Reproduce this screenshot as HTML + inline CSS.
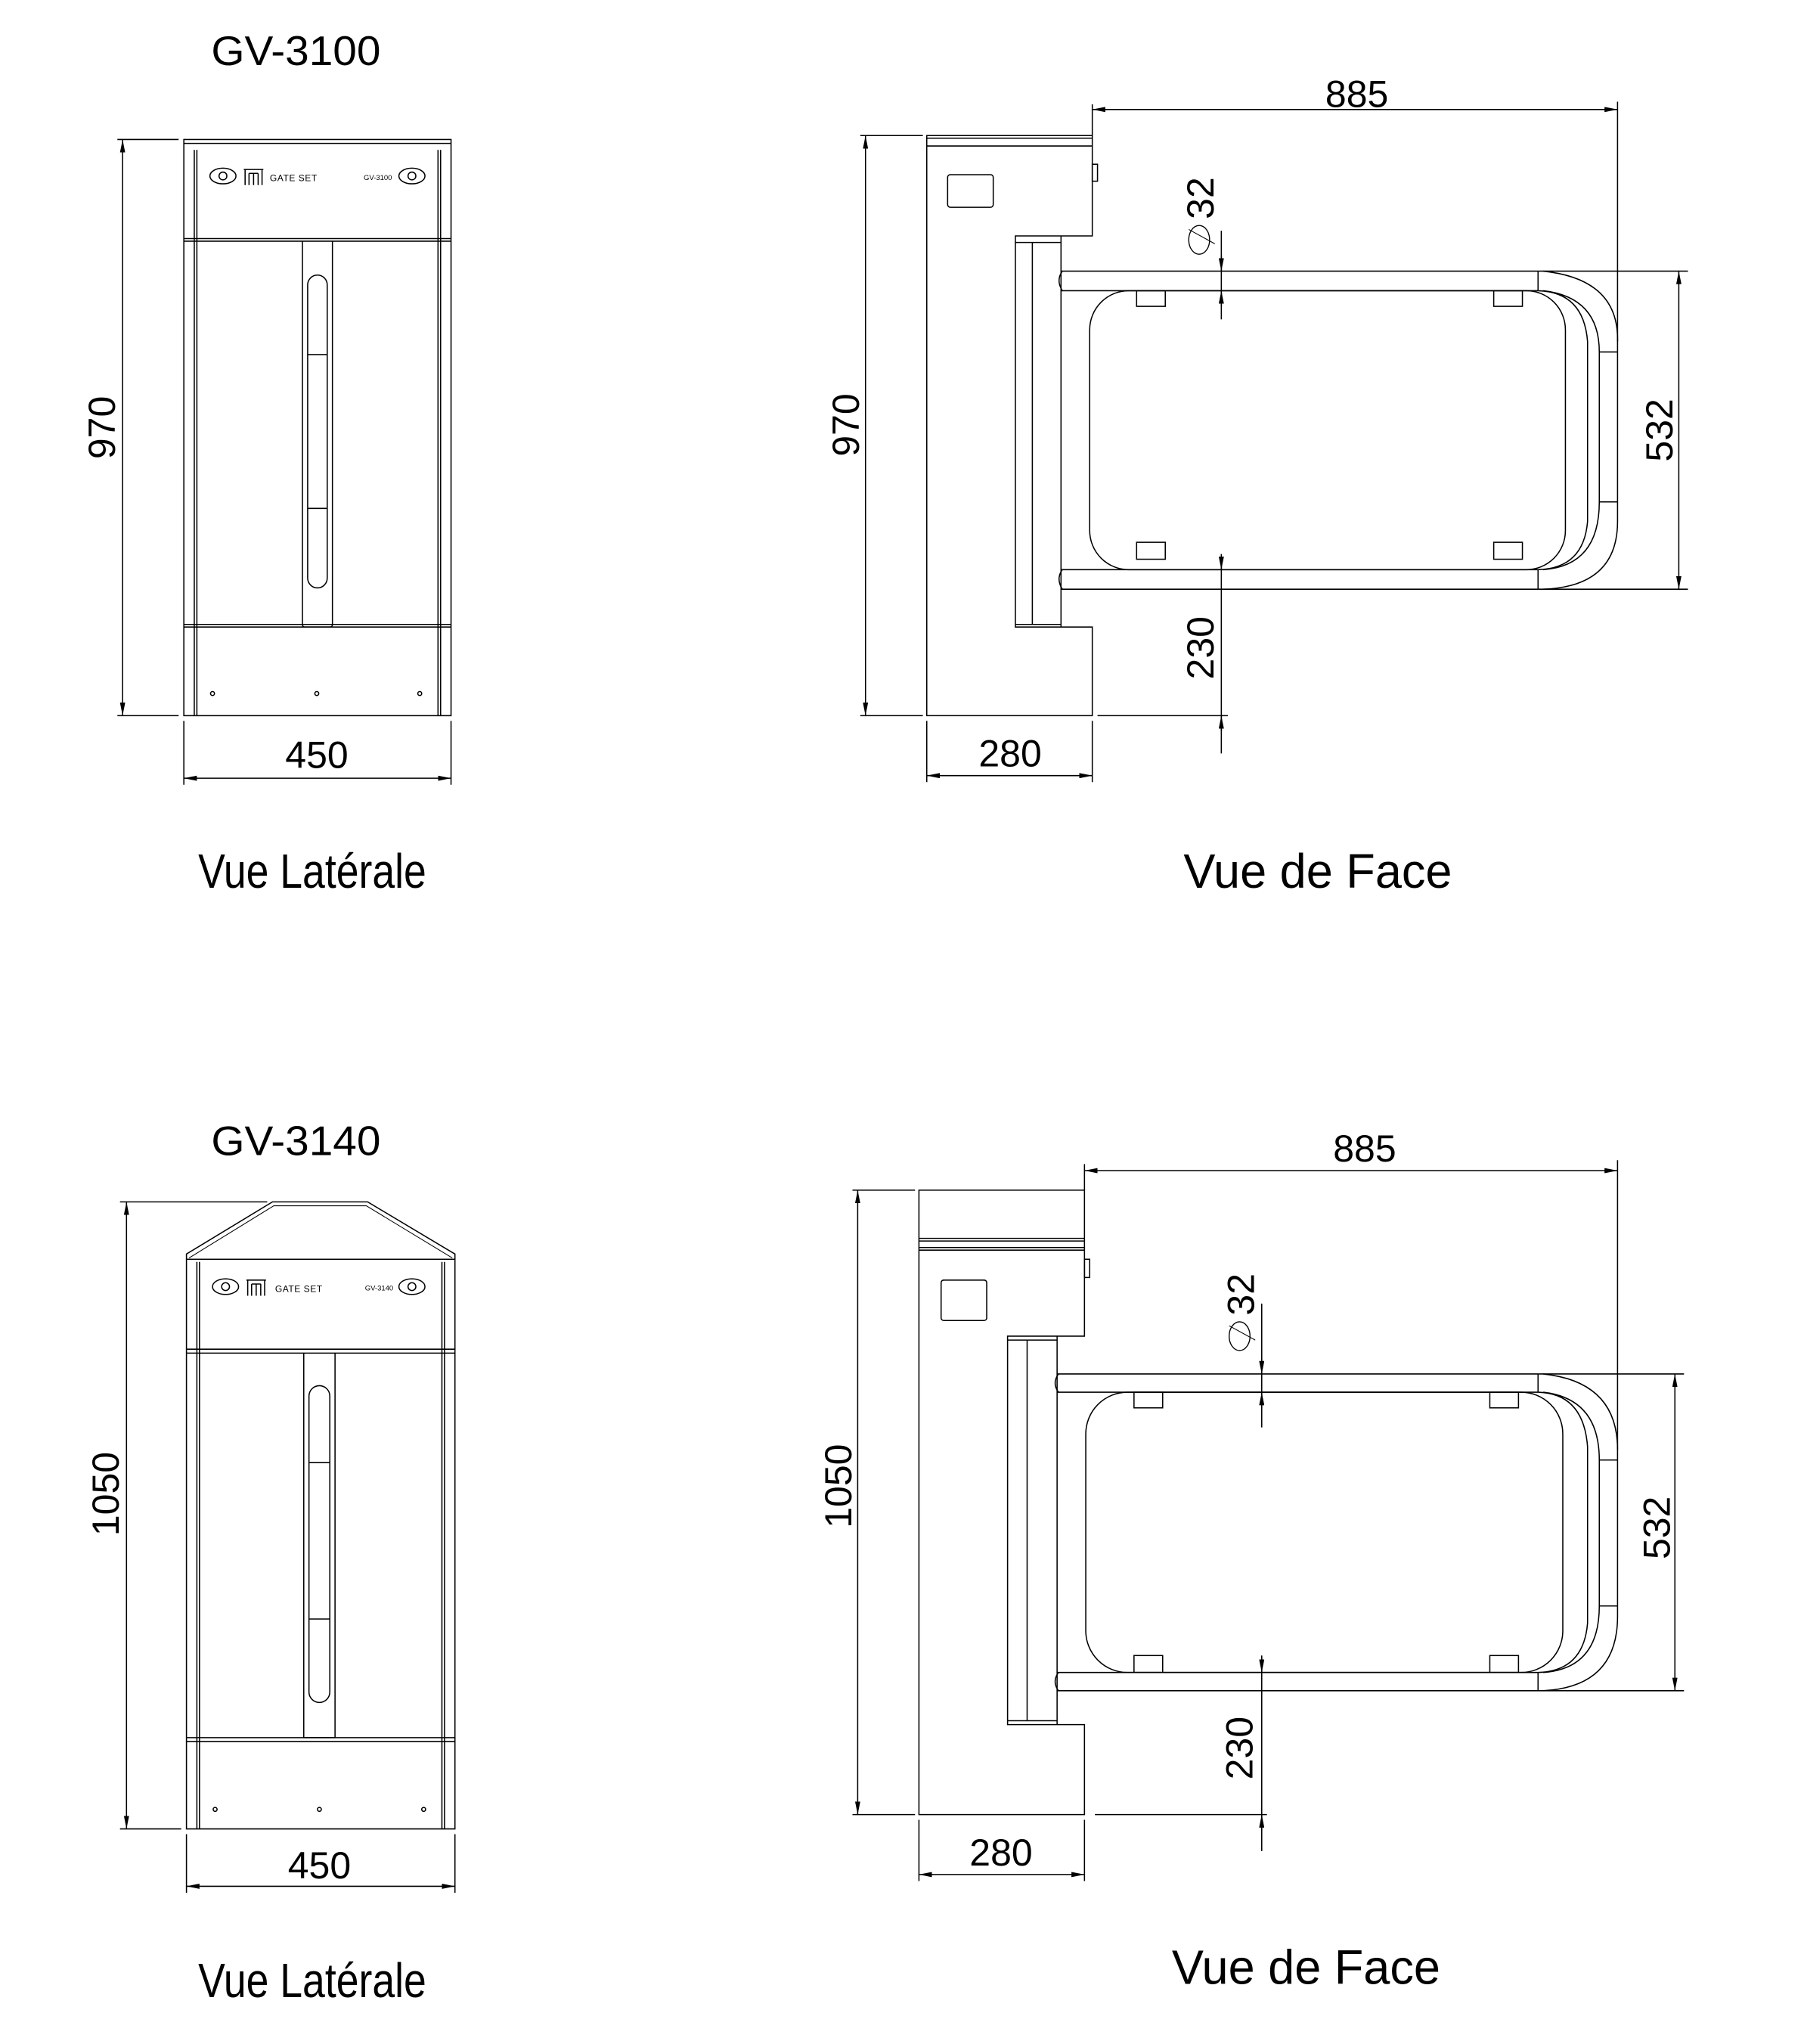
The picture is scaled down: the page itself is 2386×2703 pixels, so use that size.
<!DOCTYPE html>
<html><head><meta charset="utf-8"><style>
html,body{margin:0;padding:0;background:#fff;}
svg{display:block;}
text{font-family:"Liberation Sans",sans-serif;fill:#000;}
.t{font-family:"Liberation Sans Narrow","Liberation Sans",sans-serif;}
</style></head><body>
<svg width="2386" height="2703" viewBox="0 0 1384 1568" xmlns="http://www.w3.org/2000/svg">
<defs>
<marker id="a" viewBox="0 0 10 4" refX="10" refY="2" markerWidth="10" markerHeight="4" markerUnits="userSpaceOnUse" orient="auto-start-reverse"><path d="M0,0 L10,2 L0,4 Z" fill="#000"/></marker>
</defs>
<g fill="none" stroke="#000" stroke-width="0.9">

<rect x="141" y="107" width="205" height="442"/>
<line x1="141" y1="110" x2="346" y2="110"/>
<line x1="149" y1="115" x2="149" y2="549"/><line x1="151" y1="115" x2="151" y2="549"/>
<line x1="336" y1="115" x2="336" y2="549"/><line x1="338" y1="115" x2="338" y2="549"/>
<line x1="141" y1="183" x2="346" y2="183"/><line x1="141" y1="185" x2="346" y2="185"/>
<line x1="141" y1="479" x2="346" y2="479"/><line x1="141" y1="481" x2="346" y2="481"/>
<path d="M232,185 V479 Q232,481 234,481 H253 Q255,481 255,479 V185"/>
<rect x="236" y="211" width="15" height="240" rx="7.5"/>
<line x1="236" y1="272" x2="251" y2="272"/><line x1="236" y1="390" x2="251" y2="390"/>
<circle cx="163" cy="532" r="1.5"/><circle cx="243" cy="532" r="1.5"/><circle cx="322" cy="532" r="1.5"/>
<ellipse cx="171" cy="135" rx="10" ry="6"/><circle cx="171" cy="135" r="3"/>
<path d="M187,130 H202 M188,130 V142 M201,130 V142 M191,133 V142 M198,133 V142 M191,133 H198 M194.5,133 V142"/>
<ellipse cx="316" cy="135" rx="10" ry="6"/><circle cx="316" cy="135" r="3"/>
<line x1="90" y1="107" x2="137" y2="107"/><line x1="90" y1="549" x2="137" y2="549"/>
<line x1="94" y1="107" x2="94" y2="549" marker-start="url(#a)" marker-end="url(#a)"/>
<line x1="141" y1="553" x2="141" y2="602"/><line x1="346" y1="553" x2="346" y2="602"/>
<line x1="141" y1="597" x2="346" y2="597" marker-start="url(#a)" marker-end="url(#a)"/>

<path d="M711,104 H838 V181 H779 V481 H838 V549 H711 Z"/>
<line x1="711" y1="106" x2="838" y2="106"/><line x1="711" y1="112" x2="838" y2="112"/>
<rect x="838" y="126" width="4" height="13"/>
<rect x="727" y="134" width="35" height="25" rx="2"/>
<line x1="779" y1="186" x2="814" y2="186"/><line x1="779" y1="479" x2="814" y2="479"/>
<line x1="792" y1="186" x2="792" y2="479"/><line x1="814" y1="181" x2="814" y2="481"/>
<line x1="814" y1="208" x2="1180" y2="208"/><line x1="814" y1="223" x2="1180" y2="223"/>
<line x1="814" y1="437" x2="1180" y2="437"/><line x1="814" y1="452" x2="1180" y2="452"/>
<path d="M815,208 Q810,215 815,223 M815,437 Q810,444 815,452"/>
<rect x="836" y="223" width="365" height="214" rx="30"/>
<path d="M1180,223 Q1215,224 1218,262 V400 Q1215,436 1180,437"/>
<rect x="872" y="223" width="22" height="12"/><rect x="1146" y="223" width="22" height="12"/>
<rect x="872" y="416" width="22" height="13"/><rect x="1146" y="416" width="22" height="13"/>
<line x1="1180" y1="208" x2="1180" y2="223"/><line x1="1180" y1="437" x2="1180" y2="452"/>
<path d="M1184,208 Q1241,214 1241,260 V400 Q1241,450 1184,452"/>
<path d="M1184,223 Q1227,228 1227,270 V385 Q1227,434 1184,437"/>
<line x1="1227" y1="270" x2="1241" y2="270"/><line x1="1227" y1="385" x2="1241" y2="385"/>
<line x1="838" y1="80" x2="838" y2="104"/><line x1="1241" y1="78" x2="1241" y2="262"/>
<line x1="838" y1="84" x2="1241" y2="84" marker-start="url(#a)" marker-end="url(#a)"/>
<line x1="937" y1="177" x2="937" y2="245"/>
<line x1="937" y1="196" x2="937" y2="208" marker-end="url(#a)"/>
<line x1="937" y1="235" x2="937" y2="223" marker-end="url(#a)"/>
<line x1="937" y1="433" x2="937" y2="578"/>
<line x1="937" y1="425" x2="937" y2="437" marker-end="url(#a)"/>
<line x1="937" y1="561" x2="937" y2="549" marker-end="url(#a)"/>
<line x1="1180" y1="208" x2="1295" y2="208"/><line x1="1180" y1="452" x2="1295" y2="452"/>
<line x1="1288" y1="208" x2="1288" y2="452" marker-start="url(#a)" marker-end="url(#a)"/>
<line x1="660" y1="104" x2="708" y2="104"/><line x1="660" y1="549" x2="708" y2="549"/>
<line x1="842" y1="549" x2="942" y2="549"/>
<line x1="664" y1="104" x2="664" y2="549" marker-start="url(#a)" marker-end="url(#a)"/>
<line x1="711" y1="553" x2="711" y2="600"/><line x1="838" y1="553" x2="838" y2="600"/>
<line x1="711" y1="595" x2="838" y2="595" marker-start="url(#a)" marker-end="url(#a)"/>
<line x1="912" y1="176" x2="932" y2="187" stroke-width="0.6"/>

<path d="M143,962 L209,922 H282 L349,962 V1403 H143 Z"/>
<path d="M145,965 L210,925 H281 L347,965" stroke-width="0.6"/>
<line x1="143" y1="966" x2="349" y2="966"/>
<line x1="151" y1="968" x2="151" y2="1403"/><line x1="153" y1="968" x2="153" y2="1403"/>
<line x1="339" y1="968" x2="339" y2="1403"/><line x1="341" y1="968" x2="341" y2="1403"/>
<line x1="143" y1="1035" x2="349" y2="1035"/><line x1="143" y1="1038" x2="349" y2="1038"/>
<line x1="143" y1="1333" x2="349" y2="1333"/><line x1="143" y1="1336" x2="349" y2="1336"/>
<path d="M233,1038 V1333 H257 V1038"/>
<rect x="237" y="1063" width="16" height="243" rx="8"/>
<line x1="237" y1="1122" x2="253" y2="1122"/><line x1="237" y1="1242" x2="253" y2="1242"/>
<circle cx="165" cy="1388" r="1.5"/><circle cx="245" cy="1388" r="1.5"/><circle cx="325" cy="1388" r="1.5"/>
<ellipse cx="173" cy="987" rx="10" ry="6"/><circle cx="173" cy="987" r="3"/>
<path d="M189,982 H204 M190,982 V994 M203,982 V994 M193,985 V994 M200,985 V994 M193,985 H200 M196.5,985 V994"/>
<ellipse cx="316" cy="987" rx="10" ry="6"/><circle cx="316" cy="987" r="3"/>
<line x1="92" y1="922" x2="205" y2="922"/><line x1="92" y1="1403" x2="139" y2="1403"/>
<line x1="97" y1="922" x2="97" y2="1403" marker-start="url(#a)" marker-end="url(#a)"/>
<line x1="143" y1="1407" x2="143" y2="1452"/><line x1="349" y1="1407" x2="349" y2="1452"/>
<line x1="143" y1="1447" x2="349" y2="1447" marker-start="url(#a)" marker-end="url(#a)"/>

<path d="M705,913 H832 V1025 H773 V1323 H832 V1392 H705 Z"/>
<line x1="705" y1="950" x2="832" y2="950"/><line x1="705" y1="952" x2="832" y2="952"/>
<line x1="705" y1="957" x2="832" y2="957"/><line x1="705" y1="959" x2="832" y2="959"/>
<rect x="832" y="966" width="4" height="14"/>
<rect x="722" y="982" width="35" height="31" rx="2"/>
<line x1="773" y1="1028" x2="811" y2="1028"/><line x1="773" y1="1320" x2="811" y2="1320"/>
<line x1="788" y1="1028" x2="788" y2="1320"/><line x1="811" y1="1025" x2="811" y2="1323"/>
<line x1="811" y1="1054" x2="1180" y2="1054"/><line x1="811" y1="1068" x2="1180" y2="1068"/>
<line x1="811" y1="1283" x2="1180" y2="1283"/><line x1="811" y1="1297" x2="1180" y2="1297"/>
<path d="M812,1054 Q807,1061 812,1068 M812,1283 Q807,1290 812,1297"/>
<rect x="833" y="1068" width="366" height="215" rx="32"/>
<path d="M1180,1068 Q1215,1069 1218,1110 V1245 Q1215,1282 1180,1283"/>
<rect x="870" y="1068" width="22" height="12"/><rect x="1143" y="1068" width="22" height="12"/>
<rect x="870" y="1270" width="22" height="13"/><rect x="1143" y="1270" width="22" height="13"/>
<line x1="1180" y1="1054" x2="1180" y2="1068"/><line x1="1180" y1="1283" x2="1180" y2="1297"/>
<path d="M1184,1054 Q1241,1060 1241,1112 V1240 Q1241,1294 1184,1297"/>
<path d="M1184,1068 Q1227,1073 1227,1120 V1232 Q1227,1280 1184,1283"/>
<line x1="1227" y1="1120" x2="1241" y2="1120"/><line x1="1227" y1="1232" x2="1241" y2="1232"/>
<line x1="832" y1="893" x2="832" y2="913"/><line x1="1241" y1="890" x2="1241" y2="1112"/>
<line x1="832" y1="898" x2="1241" y2="898" marker-start="url(#a)" marker-end="url(#a)"/>
<line x1="968" y1="1000" x2="968" y2="1095"/>
<line x1="968" y1="1042" x2="968" y2="1054" marker-end="url(#a)"/>
<line x1="968" y1="1080" x2="968" y2="1068" marker-end="url(#a)"/>
<line x1="968" y1="1270" x2="968" y2="1420"/>
<line x1="968" y1="1271" x2="968" y2="1283" marker-end="url(#a)"/>
<line x1="968" y1="1404" x2="968" y2="1392" marker-end="url(#a)"/>
<line x1="1180" y1="1054" x2="1292" y2="1054"/><line x1="1180" y1="1297" x2="1292" y2="1297"/>
<line x1="1285" y1="1054" x2="1285" y2="1297" marker-start="url(#a)" marker-end="url(#a)"/>
<line x1="654" y1="913" x2="702" y2="913"/><line x1="654" y1="1392" x2="702" y2="1392"/>
<line x1="840" y1="1392" x2="972" y2="1392"/>
<line x1="658" y1="913" x2="658" y2="1392" marker-start="url(#a)" marker-end="url(#a)"/>
<line x1="705" y1="1396" x2="705" y2="1443"/><line x1="832" y1="1396" x2="832" y2="1443"/>
<line x1="705" y1="1438" x2="832" y2="1438" marker-start="url(#a)" marker-end="url(#a)"/>
<line x1="943" y1="1017" x2="963" y2="1028" stroke-width="0.6"/>
</g>

<text x="207" y="139" font-size="7" style="letter-spacing:0.3px">GATE SET</text>
<text x="279" y="138" font-size="5.5">GV-3100</text>
<text x="211" y="991" font-size="7" style="letter-spacing:0.3px">GATE SET</text>
<text x="280" y="990" font-size="5.5">GV-3140</text>

<text x="162" y="50" font-size="32" textLength="130" lengthAdjust="spacingAndGlyphs">GV-3100</text>
<text x="162" y="886" font-size="32" textLength="130" lengthAdjust="spacingAndGlyphs">GV-3140</text>

<text x="243" y="589" font-size="29" text-anchor="middle">450</text>
<text x="245" y="1441" font-size="29" text-anchor="middle">450</text>
<text x="775" y="588" font-size="29" text-anchor="middle">280</text>
<text x="768" y="1431" font-size="29" text-anchor="middle">280</text>
<text x="1041" y="82" font-size="29" text-anchor="middle">885</text>
<text x="1047" y="891" font-size="29" text-anchor="middle">885</text>
<text transform="translate(88,328) rotate(-90)" font-size="29" text-anchor="middle">970</text>
<text transform="translate(659,326) rotate(-90)" font-size="29" text-anchor="middle">970</text>
<text transform="translate(91,1146) rotate(-90)" font-size="29" text-anchor="middle">1050</text>
<text transform="translate(653,1140) rotate(-90)" font-size="29" text-anchor="middle">1050</text>
<text transform="translate(1283,330) rotate(-90)" font-size="29" text-anchor="middle">532</text>
<text transform="translate(1281,1172) rotate(-90)" font-size="29" text-anchor="middle">532</text>
<text transform="translate(931,497) rotate(-90)" font-size="29" text-anchor="middle">230</text>
<text transform="translate(961,1341) rotate(-90)" font-size="29" text-anchor="middle">230</text>
<text transform="translate(931,152) rotate(-90)" font-size="29" text-anchor="middle">32</text>
<text transform="translate(962,993) rotate(-90)" font-size="29" text-anchor="middle">32</text>
<ellipse cx="920" cy="184" rx="8" ry="11" fill="none" stroke="#000" stroke-width="0.8"/>
<ellipse cx="951" cy="1025" rx="8" ry="11" fill="none" stroke="#000" stroke-width="0.8"/>

<text class="t" x="152" y="681" font-size="37" textLength="175" lengthAdjust="spacingAndGlyphs">Vue Latérale</text>
<text class="t" x="908" y="681" font-size="37" textLength="206" lengthAdjust="spacingAndGlyphs">Vue de Face</text>
<text class="t" x="152" y="1532" font-size="37" textLength="175" lengthAdjust="spacingAndGlyphs">Vue Latérale</text>
<text class="t" x="899" y="1522" font-size="37" textLength="206" lengthAdjust="spacingAndGlyphs">Vue de Face</text>
</svg>
</body></html>
